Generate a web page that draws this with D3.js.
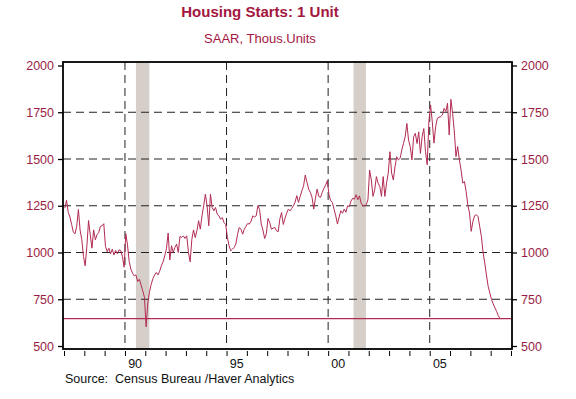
<!DOCTYPE html>
<html>
<head>
<meta charset="utf-8">
<script src="https://cdn.jsdelivr.net/npm/d3@7"></script>
<style>
  body { margin: 0; background: #fff; }
  text { font-family: "Liberation Sans", Arial, sans-serif; }
</style>
</head>
<body>
<div id="chart"></div>
<script>
// Monthly single-unit housing starts, SAAR thousands (Jan 1987 - Jun 2008)
const startYear = 1987;
const starts = [
  [1237, 1279, 1215, 1190, 1150, 1110, 1100, 1140, 1230, 1120, 1070, 979],   // 1987
  [929, 1032, 1171, 1095, 1023, 1121, 1068, 1095, 1107, 1139, 1143, 1154],   // 1988
  [1032, 1005, 1023, 993, 1018, 987, 1011, 993, 1014, 1011, 979, 921],       // 1989
  [1100, 1041, 952, 911, 889, 875, 880, 845, 857, 827, 796, 761],            // 1990
  [603, 730, 790, 830, 860, 880, 893, 880, 900, 929, 950, 982],              // 1991
  [1020, 1104, 960, 1036, 1000, 1027, 1045, 1000, 1086, 1080, 1089, 1075],   // 1992
  [1089, 1000, 950, 1070, 1121, 1080, 1116, 1170, 1125, 1196, 1250, 1312],   // 1993
  [1250, 1143, 1312, 1241, 1223, 1241, 1205, 1196, 1178, 1187, 1160, 1150],  // 1994
  [1080, 1036, 1009, 1018, 1027, 1045, 1098, 1134, 1125, 1098, 1125, 1140],  // 1995
  [1155, 1152, 1168, 1196, 1190, 1196, 1250, 1230, 1152, 1120, 1075, 1100],  // 1996
  [1182, 1160, 1125, 1130, 1134, 1116, 1111, 1180, 1214, 1150, 1182, 1210],  // 1997
  [1232, 1223, 1236, 1250, 1270, 1304, 1268, 1300, 1330, 1357, 1414, 1375],  // 1998
  [1339, 1321, 1295, 1232, 1290, 1339, 1300, 1295, 1321, 1343, 1360, 1384],  // 1999
  [1310, 1277, 1268, 1230, 1196, 1152, 1190, 1223, 1210, 1232, 1215, 1250],  // 2000
  [1245, 1275, 1290, 1285, 1309, 1282, 1303, 1264, 1250, 1250, 1255, 1282],  // 2001
  [1441, 1388, 1300, 1335, 1406, 1371, 1353, 1300, 1406, 1300, 1371, 1424],  // 2002
  [1539, 1424, 1388, 1459, 1512, 1495, 1504, 1548, 1583, 1619, 1690, 1601],  // 2003
  [1566, 1495, 1619, 1637, 1583, 1645, 1530, 1619, 1663, 1540, 1469, 1700],  // 2004
  [1789, 1700, 1585, 1673, 1718, 1723, 1727, 1736, 1771, 1754, 1798, 1629],  // 2005
  [1819, 1745, 1650, 1513, 1567, 1496, 1442, 1371, 1380, 1326, 1255, 1211],  // 2006
  [1113, 1166, 1197, 1202, 1193, 1140, 1086, 1000, 944, 880, 819, 784],      // 2007
  [748, 725, 705, 685, 662, 646]                                             // 2008
];
const lastValue = 646;
const recessions = [[1990.54, 1991.2], [2001.25, 2001.86]];
const yTicks = [500, 750, 1000, 1250, 1500, 1750, 2000];
const yGrid = [750, 1000, 1250, 1500, 1750];
const xGrid = [1990, 1995, 2000, 2005];
const xLabels = [[1990, "90"], [1995, "95"], [2000, "00"], [2005, "05"]];

const W = 576, H = 399;
const pLeft = 63, pRight = 512, pTop = 62, pBottom = 349;
const red = "#b22b52", labelRed = "#9b1d45";

const data = [];
starts.forEach((row, yi) => row.forEach((v, m) => data.push({ t: startYear + yi + (m + 0.5) / 12, v })));

const x = d3.scaleLinear().domain([1987, 2009]).range([64, 511]);
const y = d3.scaleLinear().domain([500, 2000]).range([346, 65.5]);

const svg = d3.select("#chart").append("svg")
  .attr("width", W).attr("height", H);

// recession bars
svg.selectAll(".rec").data(recessions).enter().append("rect")
  .attr("x", d => x(d[0])).attr("width", d => x(d[1]) - x(d[0]))
  .attr("y", pTop).attr("height", pBottom - pTop)
  .attr("fill", "#d6cfc9");

// dashed grid
svg.selectAll(".hg").data(yGrid).enter().append("line")
  .attr("x1", pLeft).attr("x2", pRight)
  .attr("y1", d => y(d)).attr("y2", d => y(d))
  .attr("stroke", "#222").attr("stroke-dasharray", "8,5");
svg.selectAll(".vg").data(xGrid).enter().append("line")
  .attr("x1", d => x(d)).attr("x2", d => x(d))
  .attr("y1", pTop).attr("y2", pBottom)
  .attr("stroke", "#222").attr("stroke-dasharray", "8,5");

// last value reference line
svg.append("line")
  .attr("x1", pLeft).attr("x2", pRight)
  .attr("y1", y(lastValue)).attr("y2", y(lastValue))
  .attr("stroke", red).attr("stroke-width", 1.2);

// series
const line = d3.line().x(d => x(d.t)).y(d => y(d.v));
svg.append("path").datum(data)
  .attr("d", line)
  .attr("fill", "none").attr("stroke", red).attr("stroke-width", 1);

// frame
svg.append("rect")
  .attr("x", pLeft).attr("y", pTop).attr("width", pRight - pLeft).attr("height", pBottom - pTop)
  .attr("fill", "none").attr("stroke", "#000").attr("stroke-width", 1.8);

// y axes
const yl = svg.append("g").attr("transform", `translate(${pLeft},0)`)
  .call(d3.axisLeft(y).tickValues(yTicks).tickFormat(d3.format("d")).tickSize(5).tickPadding(4));
const yr = svg.append("g").attr("transform", `translate(${pRight},0)`)
  .call(d3.axisRight(y).tickValues(yTicks).tickFormat(d3.format("d")).tickSize(5).tickPadding(4));
[yl, yr].forEach(g => {
  g.select(".domain").remove();
  g.selectAll("line").attr("stroke", "#000").attr("stroke-width", 1.3);
  g.selectAll("text").attr("fill", labelRed).style("font-size", "12.5px")
    .style("font-family", '"Liberation Sans", Arial, sans-serif');
});

// x axis ticks (year starts)
const xa = svg.append("g").attr("transform", `translate(0,${pBottom + 2})`)
  .call(d3.axisBottom(x).tickValues(d3.range(1987, 2010)).tickSize(5).tickFormat(""));
xa.select(".domain").remove();
xa.selectAll("line").attr("stroke", "#000").attr("stroke-width", 1);

svg.selectAll(".xl").data(xLabels).enter().append("text")
  .attr("x", d => x(d[0] + 0.5)).attr("y", 367.5)
  .attr("text-anchor", "middle").style("font-size", "12.5px").attr("fill", "#111")
  .text(d => d[1]);

// titles
svg.append("text").attr("x", 260).attr("y", 16.5).attr("text-anchor", "middle")
  .style("font-size", "15px").style("font-weight", "bold").attr("fill", "#a3163f")
  .text("Housing Starts: 1 Unit");
svg.append("text").attr("x", 260).attr("y", 43).attr("text-anchor", "middle")
  .style("font-size", "13px").attr("fill", "#a3163f")
  .text("SAAR, Thous.Units");

svg.append("text").attr("x", 65).attr("y", 382.5)
  .style("font-size", "12.5px").style("white-space", "pre").attr("fill", "#111")
  .text("Source:  Census Bureau /Haver Analytics");
</script>
</body>
</html>
